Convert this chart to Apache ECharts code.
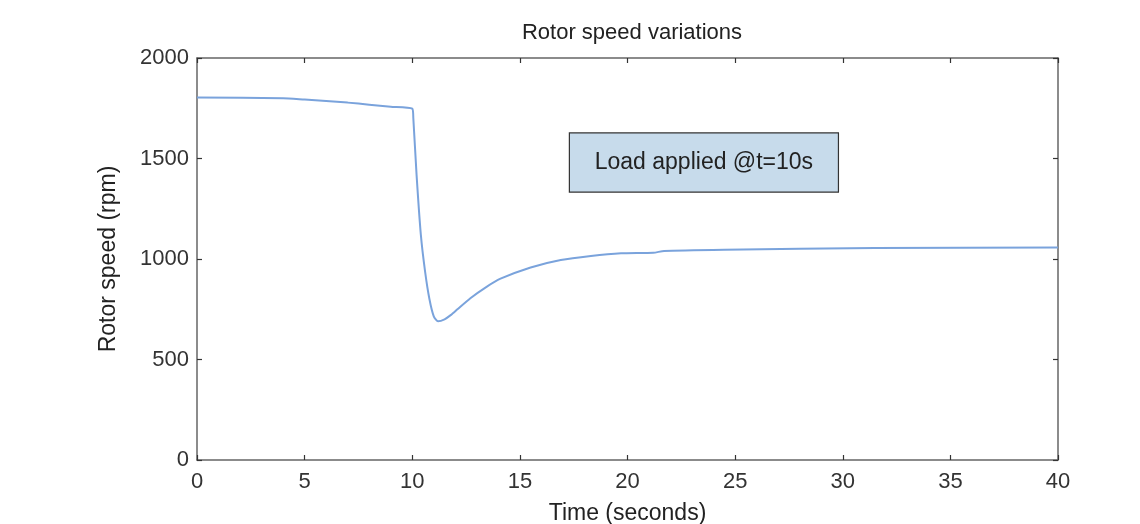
<!DOCTYPE html>
<html>
<head>
<meta charset="utf-8">
<script src="https://cdn.jsdelivr.net/npm/echarts@6/dist/echarts.min.js"></script>
<style>
html,body{margin:0;padding:0;background:#fff;}
#chart{width:1140px;height:524px;}
</style>
</head>
<body>
<div id="chart"></div>
<script>
const timeVals  = [0, 4, 5, 6, 7, 8, 9, 10, 10.05, 10.2, 10.4, 10.6, 10.8, 11.0, 11.2, 11.5, 11.8, 12.1, 12.7, 13.4, 14.1, 15.5, 16.9, 18.3, 19.7, 21.2, 21.7, 24.5, 31.5, 40];
const speedVals = [1803, 1800, 1793, 1786, 1778, 1768, 1758, 1748, 1700, 1420, 1120, 935, 800, 715, 690, 700, 722, 750, 805, 858, 902, 958, 995, 1015, 1028, 1031, 1040, 1046, 1055, 1057];
const xTicks = [0, 5, 10, 15, 20, 25, 30, 35, 40];
const yTicks = [0, 500, 1000, 1500, 2000];
const annotationText = 'Load applied @t=10s';
const annotationBox = [[17.3, 1627], [29.8, 1333]];

const font = 'Liberation Sans, Arial, Helvetica, sans-serif';
const axisColor = '#666';
const chart = echarts.init(document.getElementById('chart'));
const pts = timeVals.map((t, i) => [t, speedVals[i]]);

const baseX = {
  type: 'value', min: xTicks[0], max: xTicks[xTicks.length - 1], interval: 5,
  axisLine: {show: true, onZero: false, lineStyle: {color: axisColor, width: 1.5}},
  axisTick: {show: true, inside: true, length: 5, lineStyle: {color: '#333', width: 1.2}},
  splitLine: {show: false}
};
const baseY = {
  type: 'value', min: yTicks[0], max: yTicks[yTicks.length - 1], interval: 500,
  axisLine: {show: true, onZero: false, lineStyle: {color: axisColor, width: 1.5}},
  axisTick: {show: true, inside: true, length: 5, lineStyle: {color: '#333', width: 1.2}},
  splitLine: {show: false}
};

chart.setOption({
  backgroundColor: '#fff',
  animation: false,
  title: {
    text: 'Rotor speed variations', left: 627, top: 17, textAlign: 'center',
    textStyle: {fontFamily: font, fontSize: 22, fontWeight: 'normal', color: '#222'}
  },
  grid: {left: 197, right: 82, top: 58, bottom: 64, containLabel: false, outerBoundsMode: 'none'},
  xAxis: [
    Object.assign({}, baseX, {
      position: 'bottom',
      name: 'Time (seconds)', nameLocation: 'middle', nameGap: 42,
      nameTextStyle: {fontFamily: font, fontSize: 23, color: '#222'},
      axisLabel: {fontFamily: font, fontSize: 22, color: '#333', margin: 11, formatter: v => String(v)}
    }),
    Object.assign({}, baseX, {position: 'top', axisLabel: {show: false}})
  ],
  yAxis: [
    Object.assign({}, baseY, {
      position: 'left',
      name: 'Rotor speed (rpm)', nameLocation: 'middle', nameGap: 77,
      nameTextStyle: {fontFamily: font, fontSize: 23, color: '#222'},
      axisLabel: {fontFamily: font, fontSize: 22, color: '#333', margin: 8, formatter: v => String(v)}
    }),
    Object.assign({}, baseY, {position: 'right', axisLabel: {show: false}})
  ],
  series: [{
    type: 'line', data: pts, xAxisIndex: 0, yAxisIndex: 0,
    showSymbol: false, smooth: 0.2,
    lineStyle: {color: '#7aa3dc', width: 2},
    markArea: {
      silent: true,
      itemStyle: {color: '#c7dbeb', borderColor: '#333', borderWidth: 1.2},
      label: {show: true, position: 'inside', formatter: annotationText,
        fontFamily: font, fontSize: 23, color: '#222'},
      data: [[{coord: annotationBox[0]}, {coord: annotationBox[1]}]]
    }
  }]
});
</script>
</body>
</html>
